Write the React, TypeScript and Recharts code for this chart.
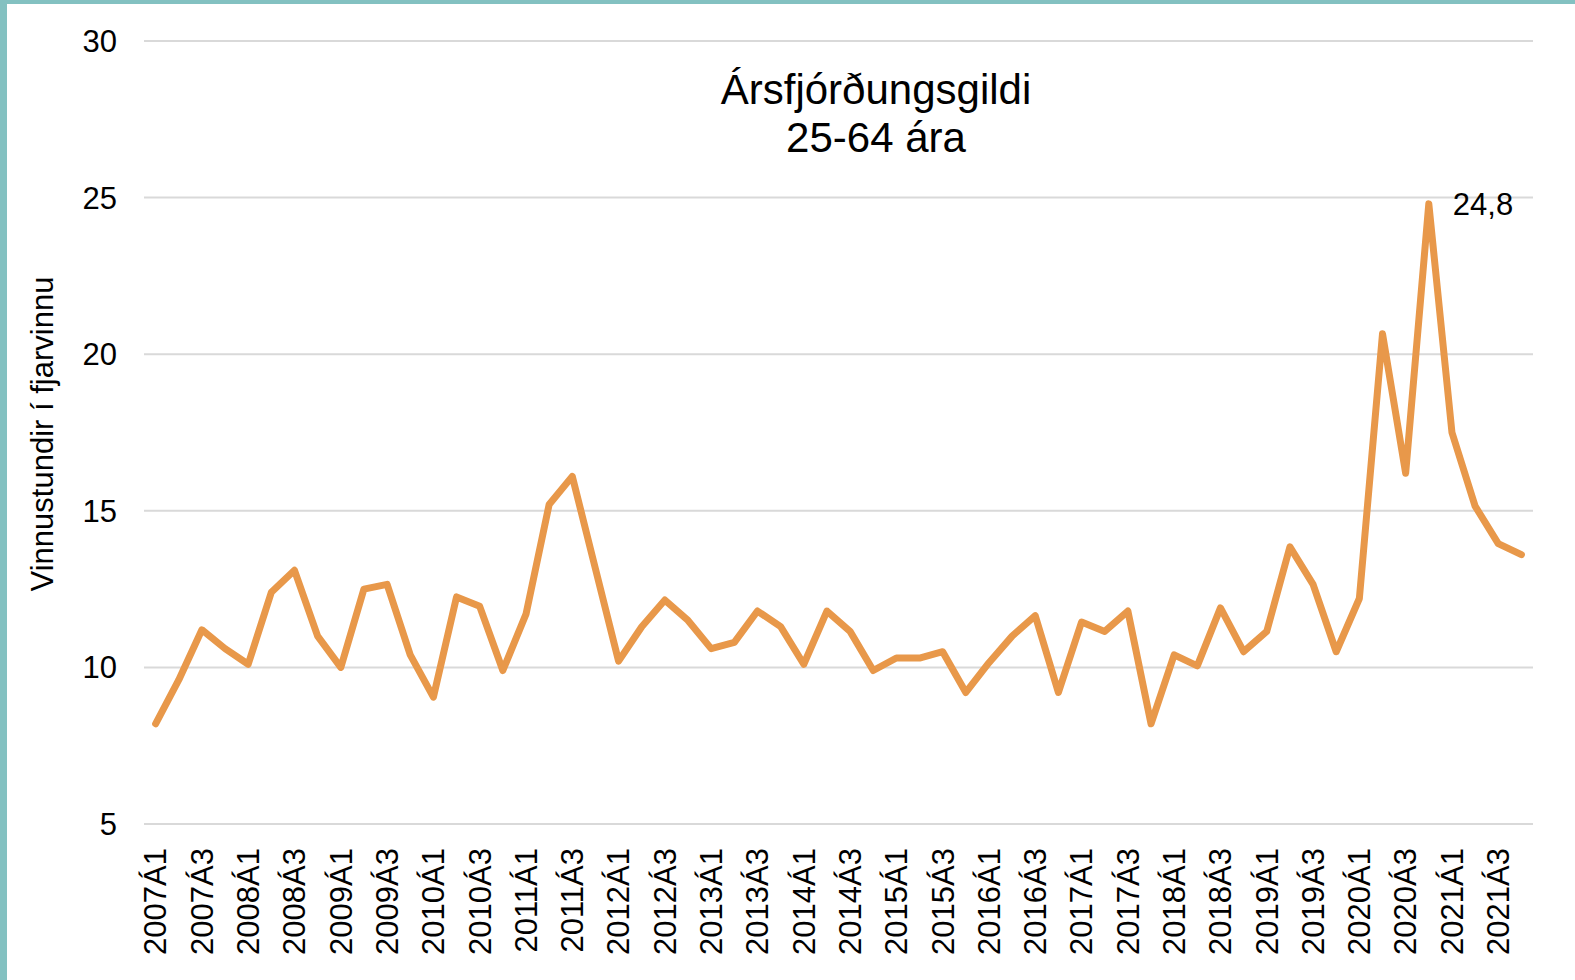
import React from 'react';
import { LineChart, Line, XAxis, YAxis, CartesianGrid, LabelList } from 'recharts';

const quarters: string[] = [
  '2007Á1', '2007Á2', '2007Á3', '2007Á4',
  '2008Á1', '2008Á2', '2008Á3', '2008Á4',
  '2009Á1', '2009Á2', '2009Á3', '2009Á4',
  '2010Á1', '2010Á2', '2010Á3', '2010Á4',
  '2011Á1', '2011Á2', '2011Á3', '2011Á4',
  '2012Á1', '2012Á2', '2012Á3', '2012Á4',
  '2013Á1', '2013Á2', '2013Á3', '2013Á4',
  '2014Á1', '2014Á2', '2014Á3', '2014Á4',
  '2015Á1', '2015Á2', '2015Á3', '2015Á4',
  '2016Á1', '2016Á2', '2016Á3', '2016Á4',
  '2017Á1', '2017Á2', '2017Á3', '2017Á4',
  '2018Á1', '2018Á2', '2018Á3', '2018Á4',
  '2019Á1', '2019Á2', '2019Á3', '2019Á4',
  '2020Á1', '2020Á2', '2020Á3', '2020Á4',
  '2021Á1', '2021Á2', '2021Á3', '2021Á4',
];

const hours: number[] = [
  8.2, 9.6, 11.2, 10.6,
  10.1, 12.4, 13.1, 11.0,
  10.0, 12.5, 12.65, 10.4,
  9.05, 12.25, 11.95, 9.9,
  11.7, 15.2, 16.1, 13.15,
  10.2, 11.3, 12.15, 11.5,
  10.6, 10.8, 11.8, 11.3,
  10.1, 11.8, 11.15, 9.9,
  10.3, 10.3, 10.5, 9.2,
  10.15, 11.0, 11.65, 9.2,
  11.45, 11.15, 11.8, 8.2,
  10.4, 10.05, 11.9, 10.5,
  11.15, 13.85, 12.65, 10.5,
  12.2, 20.65, 16.2, 24.8,
  17.5, 15.15, 13.95, 13.6,
];

const yTicks: number[] = [5, 10, 15, 20, 25, 30];
const titleLines: string[] = ['Ársfjórðungsgildi', '25-64 ára'];
const yAxisTitle = 'Vinnustundir í fjarvinnu';
const peakLabel = '24,8';
const peakValue = 24.8;

const data = quarters.map((q, i) => ({ q, v: hours[i] }));

const FONT = '"Liberation Sans", Arial, sans-serif';

const XTick = (props: any) => {
  const { x, y, payload } = props;
  return (
    <text
      x={x}
      y={y}
      transform={`rotate(-90, ${x}, ${y})`}
      textAnchor="end"
      dy="0.35em"
      fontSize={31}
      fontFamily={FONT}
      fill="#000"
    >
      {payload.value}
    </text>
  );
};

const YTitle = () => (
  <text
    x={53}
    y={434}
    transform="rotate(-90, 53, 434)"
    textAnchor="middle"
    fontSize={31}
    fontFamily={FONT}
    fill="#000"
  >
    {yAxisTitle}
  </text>
);

const PeakLabel = (props: any) => {
  const { x, y, value } = props;
  if (value !== peakValue) return null;
  return (
    <text
      x={Number(x) + 24}
      y={Number(y)}
      dy="0.35em"
      textAnchor="start"
      fontSize={31}
      fontFamily={FONT}
      fill="#000"
    >
      {peakLabel}
    </text>
  );
};

export default function App() {
  return (
    <div
      style={{
        position: 'absolute',
        left: 0,
        top: 0,
        width: 1575,
        height: 980,
        background: '#fff',
        overflow: 'hidden',
      }}
    >
      <div
        style={{
          position: 'absolute',
          left: 0,
          top: 0,
          width: 1575,
          height: 4,
          background: '#83C1C1',
        }}
      />
      <div
        style={{
          position: 'absolute',
          left: 0,
          top: 0,
          width: 7,
          height: 980,
          background: '#83C1C1',
        }}
      />
      <div style={{ position: 'absolute', left: 0, top: 0 }}>
        <LineChart
          width={1575}
          height={980}
          data={data}
          margin={{ top: 41, right: 42, bottom: 6, left: 0 }}
        >
          <CartesianGrid vertical={false} stroke="#D9D9D9" strokeWidth={2} />
          <XAxis
            dataKey="q"
            interval={1}
            padding={{ left: 11.6, right: 11.6 }}
            axisLine={false}
            tickLine={false}
            tickSize={0}
            tickMargin={24}
            height={150}
            tick={<XTick />}
          />
          <YAxis
            domain={[5, 30]}
            ticks={yTicks}
            width={144}
            axisLine={false}
            tickLine={false}
            tickSize={0}
            tickMargin={27}
            tick={{ fontSize: 31, fontFamily: FONT, fill: '#000' }}
            label={<YTitle />}
          />
          <Line
            type="linear"
            dataKey="v"
            stroke="#E8984A"
            strokeWidth={7}
            strokeLinejoin="round"
            strokeLinecap="round"
            dot={false}
            activeDot={false}
            isAnimationActive={false}
          >
            <LabelList dataKey="v" content={<PeakLabel />} />
          </Line>
        </LineChart>
      </div>
      <div
        style={{
          position: 'absolute',
          left: 576,
          top: 66,
          width: 600,
          textAlign: 'center',
          fontFamily: FONT,
          fontSize: 42,
          lineHeight: '48px',
          color: '#000',
        }}
      >
        {titleLines.map((t) => (
          <div key={t}>{t}</div>
        ))}
      </div>
    </div>
  );
}
